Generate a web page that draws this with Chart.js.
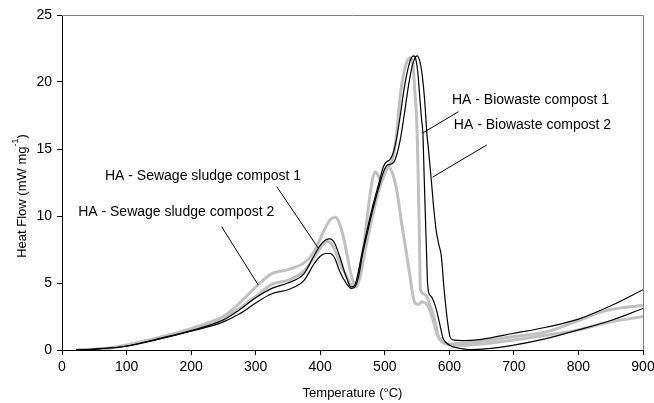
<!DOCTYPE html>
<html>
<head>
<meta charset="utf-8">
<script src="https://cdn.jsdelivr.net/npm/chart.js@4.4.1/dist/chart.umd.min.js"></script>
<style>
  html, body { margin: 0; padding: 0; background: #fff; }
  #wrap { width: 654px; height: 403px; }
</style>
</head>
<body>
<div id="wrap"><canvas id="dsc" width="654" height="403"></canvas></div>
<script>
// DSC heat flow curves of humic acids (HA), temperature in °C, heat flow in mW mg-1
const bio1Temp = [22, 50, 100, 150, 200, 250, 275, 300, 325, 350, 375, 390, 400, 408, 415, 422, 430, 440, 448, 453, 458, 465, 470, 480, 490, 498, 503, 508, 513, 518, 524, 530, 536, 541, 545, 548, 551, 554, 557, 559, 561, 563, 565, 566, 568, 572, 576, 580, 586, 590, 596, 605, 617, 632, 660, 700, 750, 800, 850, 900];
const bio1Heat = [0, 0.07, 0.3, 0.85, 1.45, 2.25, 3.0, 3.9, 4.6, 5.0, 5.7, 7.0, 7.8, 8.2, 8.3, 8.0, 7.0, 5.5, 4.7, 4.8, 5.6, 7.3, 8.4, 10.5, 12.3, 13.7, 14.05, 14.2, 14.7, 15.7, 17.5, 19.5, 21.0, 21.8, 21.95, 21.7, 20.8, 19.0, 17.2, 16.2, 13.0, 9.8, 6.8, 5.2, 4.3, 4.0, 3.6, 3.0, 1.75, 0.9, 0.5, 0.25, 0.12, 0.03, 0.1, 0.37, 0.85, 1.5, 2.2, 3.1];

const bio2Temp = [22, 50, 100, 150, 200, 250, 275, 300, 325, 350, 375, 390, 400, 408, 415, 422, 430, 440, 448, 455, 460, 465, 470, 480, 490, 498, 504, 511, 516, 524, 530, 537, 543, 550, 554, 558, 562, 565, 568, 572, 576, 580, 584, 587, 589, 591, 594, 597, 601, 606, 620, 650, 700, 750, 800, 850, 900];
const bio2Heat = [0, 0.06, 0.28, 0.8, 1.4, 2.1, 2.7, 3.5, 4.2, 4.5, 5.2, 6.4, 7.0, 7.2, 7.2, 6.9, 5.9, 5.0, 4.6, 4.8, 5.6, 7.0, 8.1, 10.2, 12.0, 13.3, 13.8, 13.9, 14.2, 15.7, 17.5, 19.8, 21.3, 21.95, 21.6, 20.5, 18.5, 16.3, 14.8, 12.7, 10.5, 8.8, 7.8, 7.2, 6.3, 5.0, 3.5, 2.2, 1.0, 0.75, 0.7, 0.8, 1.25, 1.7, 2.3, 3.3, 4.5];

const sludge1Temp = [22, 50, 75, 100, 150, 200, 225, 250, 275, 300, 325, 350, 375, 390, 400, 410, 418, 425, 432, 440, 447, 455, 462, 470, 480, 490, 500, 507, 512, 518, 524, 530, 535, 539, 543, 547, 550, 552, 554, 555, 560, 565, 570, 575, 580, 583, 590, 600, 620, 650, 700, 750, 800, 840, 900];
const sludge1Heat = [0, 0.05, 0.15, 0.35, 0.9, 1.55, 1.95, 2.45, 3.1, 4.0, 4.9, 5.2, 5.9, 6.9, 7.6, 8.1, 7.9, 7.2, 6.3, 5.6, 4.9, 4.7, 5.5, 7.5, 9.8, 11.8, 13.2, 13.8, 14.2, 16.0, 19.0, 20.8, 21.6, 21.8, 21.5, 19.0, 16.5, 12.5, 7.5, 4.6, 4.2, 4.0, 3.3, 2.7, 1.6, 1.0, 0.55, 0.45, 0.5, 0.65, 1.0, 1.35, 2.2, 2.9, 3.35];

const sludge2Temp = [22, 50, 75, 100, 150, 200, 225, 250, 275, 300, 325, 350, 375, 390, 400, 410, 417, 424, 430, 436, 442, 447, 451, 455, 460, 468, 475, 480, 485, 490, 495, 500, 506, 511, 516, 521, 526, 531, 536, 540, 543, 547, 552, 557, 563, 568, 575, 580, 585, 590, 600, 620, 650, 700, 750, 800, 840, 900];
const sludge2Heat = [0, 0.05, 0.15, 0.37, 0.92, 1.6, 2.0, 2.5, 3.5, 4.7, 5.7, 6.0, 6.5, 7.3, 8.3, 9.3, 9.8, 9.9, 9.4, 8.4, 7.0, 5.8, 5.1, 4.8, 5.6, 8.0, 10.8, 12.5, 13.3, 13.0, 12.6, 13.2, 13.7, 13.3, 12.5, 11.2, 9.5, 8.0, 6.5, 5.2, 4.2, 3.5, 3.4, 3.6, 3.5, 3.2, 2.2, 1.3, 0.8, 0.55, 0.4, 0.35, 0.45, 0.75, 1.1, 1.5, 2.0, 2.5];

const xTicks = [0, 100, 200, 300, 400, 500, 600, 700, 800, 900];
const yTicks = [0, 5, 10, 15, 20, 25];

// label text, where it sits, and the leader line (start -> point on the curve), all in data units
const callouts = [
  { text: 'HA - Biowaste compost 1', at: [604, 18.66], from: [614, 17.78], to: [559, 16.2] },
  { text: 'HA - Biowaste compost 2', at: [607, 16.8], from: [658, 15.3], to: [574, 12.9] },
  { text: 'HA - Sewage sludge compost 1', at: [66.5, 12.95], from: [332.6, 12.19], to: [397, 7.6] },
  { text: 'HA - Sewage sludge compost 2', at: [25, 10.3], from: [247.3, 9.2], to: [304, 4.85] }
];

const FONT = '"Liberation Sans", Arial, sans-serif';

function toPoints(xs, ys) {
  return xs.map((t, i) => ({ x: t, y: ys[i] }));
}

function curve(label, xs, ys, color, width) {
  return {
    label,
    data: toPoints(xs, ys),
    borderColor: color,
    borderWidth: width,
    pointRadius: 0,
    fill: false,
    cubicInterpolationMode: 'monotone'
  };
}

const paperPlugin = {
  id: 'paper',
  beforeDraw(chart) {
    const { ctx } = chart;
    ctx.save();
    ctx.fillStyle = '#fff';
    ctx.fillRect(0, 0, chart.width, chart.height);
    ctx.restore();
  },
  afterDraw(chart) {
    const { ctx, chartArea: a, scales: { x, y } } = chart;
    ctx.save();
    // grey frame on top and right
    ctx.strokeStyle = '#808080';
    ctx.lineWidth = 1;
    ctx.beginPath();
    ctx.moveTo(a.left, a.top + 0.5);
    ctx.lineTo(a.right + 0.5, a.top + 0.5);
    ctx.lineTo(a.right + 0.5, a.bottom);
    ctx.stroke();

    // callouts
    ctx.fillStyle = '#000';
    ctx.strokeStyle = '#000';
    ctx.font = '14px ' + FONT;
    ctx.textBaseline = 'middle';
    ctx.textAlign = 'left';
    callouts.forEach(c => {
      ctx.fillText(c.text, x.getPixelForValue(c.at[0]), y.getPixelForValue(c.at[1]));
      ctx.beginPath();
      ctx.moveTo(x.getPixelForValue(c.from[0]), y.getPixelForValue(c.from[1]));
      ctx.lineTo(x.getPixelForValue(c.to[0]), y.getPixelForValue(c.to[1]));
      ctx.stroke();
    });

    // x axis title
    ctx.font = '13px ' + FONT;
    ctx.textAlign = 'center';
    ctx.fillText('Temperature (°C)', (a.left + a.right) / 2, 393);

    // y axis title with superscript
    const main = 'Heat Flow (mW mg';
    const sup = '-1';
    const tail = ')';
    ctx.font = '13px ' + FONT;
    const wMain = ctx.measureText(main).width;
    const wTail = ctx.measureText(tail).width;
    ctx.font = '9px ' + FONT;
    const wSup = ctx.measureText(sup).width;
    const total = wMain + wSup + wTail;
    ctx.translate(22, 196);
    ctx.rotate(-Math.PI / 2);
    ctx.textAlign = 'left';
    let cx = -total / 2;
    ctx.font = '13px ' + FONT;
    ctx.fillText(main, cx, 0);
    cx += wMain;
    ctx.font = '9px ' + FONT;
    ctx.fillText(sup, cx, -6);
    cx += wSup;
    ctx.font = '13px ' + FONT;
    ctx.fillText(tail, cx, 0);
    ctx.restore();
  }
};

new Chart(document.getElementById('dsc'), {
  type: 'line',
  data: {
    datasets: [
      curve('HA - Biowaste compost 1', bio1Temp, bio1Heat, '#000', 1.2),
      curve('HA - Biowaste compost 2', bio2Temp, bio2Heat, '#000', 1.2),
      curve('HA - Sewage sludge compost 1', sludge1Temp, sludge1Heat, '#c0c0c0', 3),
      curve('HA - Sewage sludge compost 2', sludge2Temp, sludge2Heat, '#c0c0c0', 3)
    ]
  },
  options: {
    responsive: false,
    animation: false,
    devicePixelRatio: 1,
    layout: { padding: { top: 15, right: 11, left: 0, bottom: 0 } },
    plugins: {
      legend: { display: false },
      tooltip: { enabled: false }
    },
    scales: {
      x: {
        type: 'linear',
        min: 0,
        max: 900,
        afterBuildTicks: s => { s.ticks = xTicks.map(v => ({ value: v })); },
        afterFit: s => { s.height = 53; s.paddingLeft = 0; s.paddingRight = 0; },
        border: { color: '#000', width: 1 },
        grid: { drawOnChartArea: false, drawTicks: true, tickLength: 5, tickColor: '#000' },
        ticks: { color: '#000', padding: 4, maxRotation: 0, font: { family: FONT, size: 14 } }
      },
      y: {
        type: 'linear',
        min: 0,
        max: 25,
        afterBuildTicks: s => { s.ticks = yTicks.map(v => ({ value: v })); },
        afterFit: s => { s.width = 62; s.paddingTop = 0; s.paddingBottom = 0; },
        border: { color: '#000', width: 1 },
        grid: { drawOnChartArea: false, drawTicks: true, tickLength: 5, tickColor: '#000' },
        ticks: { color: '#000', padding: 5, font: { family: FONT, size: 14 } }
      }
    }
  },
  plugins: [paperPlugin]
});
</script>
</body>
</html>
